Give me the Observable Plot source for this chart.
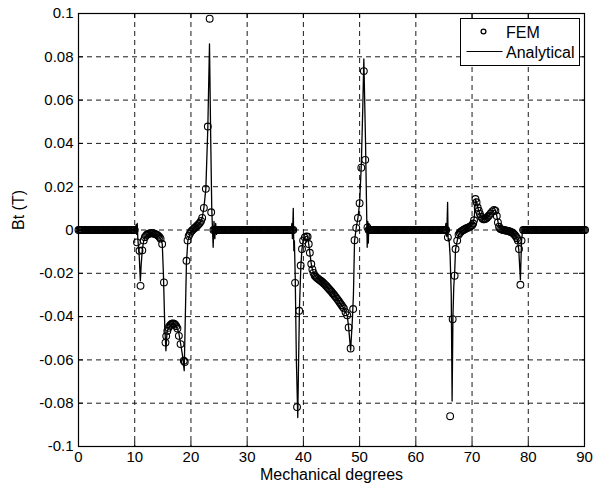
<!DOCTYPE html>
<html><head><meta charset="utf-8">
<script src="https://cdn.jsdelivr.net/npm/d3@7"></script>
<script src="https://cdn.jsdelivr.net/npm/@observablehq/plot@0.6"></script>
<style>
body{margin:0;background:#fff;font-family:"Liberation Sans",Arial,sans-serif;}
#chart svg{display:block;}
</style></head><body><div id="chart"></div>
<script>
// ---- tick definitions ----
const xTicks = [0,10,20,30,40,50,60,70,80,90];
const yTicks = [-0.1,-0.08,-0.06,-0.04,-0.02,0,0.02,0.04,0.06,0.08,0.1];
const yTickLabels = ["-0.1","-0.08","-0.06","-0.04","-0.02","0","0.02","0.04","0.06","0.08","0.1"];

// ---- FEM: flat (zero) stretches, [start deg, end deg], sampled every femStep deg ----
const femFlatSegments = [[0,10.1],[24.0,38.2],[51.6,65.4],[79.1,90]];
const femStep = 0.2;

// ---- FEM: non-zero stretches [deg, Bt] ----
const femRegionA = [[10.4,-0.0057],[10.85,-0.0096],[11.03,-0.0258],[11.35,-0.0094],[11.6,-0.0048],
 [11.8,-0.0033],[12.0,-0.0026],[12.2,-0.0021],[12.4,-0.0018],[12.6,-0.0016],[12.8,-0.0015],[13.0,-0.0015],
 [13.2,-0.0015],[13.4,-0.0016],[13.6,-0.0018],[13.8,-0.002],[14.0,-0.0023],[14.2,-0.0027],[14.4,-0.0032],[14.6,-0.004],
 [14.88,-0.0065],[15.2,-0.0242],[15.47,-0.052],[15.6,-0.049],[15.8,-0.0466],[16.0,-0.0452],[16.2,-0.0443],[16.4,-0.0437],
 [16.6,-0.0433],[16.8,-0.0432],[17.0,-0.0433],[17.2,-0.0437],[17.4,-0.0444],[17.6,-0.0455],[17.85,-0.0489],[18.15,-0.0527],
 [18.74,-0.0604],[18.9,-0.061],[19.21,-0.0142],[19.4,-0.0048],[19.6,-0.0028],[19.8,-0.0017],[20.0,-0.0008],[20.2,-0.0002],
 [20.4,0.0003],[20.6,0.0008],[20.8,0.0012],[21.0,0.0017],[21.2,0.0022],[21.4,0.0028],[21.6,0.0034],[21.8,0.0042],
 [22.0,0.0056],[22.3,0.0102],[22.65,0.019],[23.0,0.0478],[23.33,0.0976],[23.6,0.0082]];
const femRegionB = [[38.52,-0.0244],[38.87,-0.0818],[39.25,-0.0373],[39.52,-0.0164],[39.75,-0.0088],[39.95,-0.0049],
 [40.25,-0.0034],[40.55,-0.003],[40.75,-0.0031],[40.95,-0.0065],[41.15,-0.0105],[41.4,-0.0157],[41.6,-0.0182],
 [41.8,-0.0198],[42.0,-0.0210],[42.2,-0.0216],[42.4,-0.0221],[42.6,-0.0225],[42.8,-0.0229],[43.0,-0.0233],[43.2,-0.0237],
 [43.4,-0.0241],[43.6,-0.0246],[43.8,-0.0251],[44.0,-0.0256],[44.2,-0.0262],[44.4,-0.0268],[44.6,-0.0274],[44.8,-0.0279],
 [45.0,-0.0285],[45.2,-0.0292],[45.4,-0.0298],[45.6,-0.0305],[45.8,-0.0311],[46.0,-0.0318],[46.2,-0.0325],[46.4,-0.0332],
 [46.6,-0.034],[46.8,-0.0347],[47.0,-0.0355],[47.2,-0.0362],[47.5,-0.038],[47.8,-0.0394],[48.05,-0.045],[48.4,-0.0547],
 [48.85,-0.0365],[49.1,-0.0047],[49.4,0.001],[49.7,0.0056],[50.0,0.0124],[50.3,0.0288],[50.75,0.0734],[51.0,0.0324],[51.4,0.0012]];
const femRegionC = [[65.7,-0.0034],[66.1,-0.086],[66.55,-0.0412],[66.9,-0.0211],[67.06,-0.0088],[67.36,-0.0049],
 [67.6,-0.0022],[67.8,-0.0014],[68.0,-0.0008],[68.2,-0.0004],[68.4,-0.0001],[68.6,0.0002],[68.8,0.0005],[69.0,0.0008],
 [69.2,0.001],[69.4,0.0012],[69.6,0.0015],[69.8,0.0018],[70.0,0.0022],[70.2,0.003],[70.35,0.0045],[70.6,0.0143],
 [70.8,0.0128],[71.0,0.0104],[71.2,0.0089],[71.4,0.0074],[71.6,0.0062],[71.8,0.0054],[72.0,0.005],[72.2,0.005],
 [72.4,0.0052],[72.6,0.0056],[72.8,0.0061],[73.0,0.0067],[73.3,0.0076],[73.6,0.0086],[73.9,0.0093],[74.15,0.0089],
 [74.4,0.0065],[74.6,0.0035],[74.8,0.0015],[75.0,0.0006],[75.2,0.0003],[75.4,0.0001],[75.6,0],[75.8,-0.0001],
 [76.0,-0.0002],[76.2,-0.0003],[76.4,-0.0004],[76.6,-0.0006],[76.8,-0.0008],[77.0,-0.001],[77.2,-0.0013],[77.4,-0.0017],
 [77.6,-0.0023],[77.8,-0.003],[78.0,-0.0038],[78.15,-0.0048],[78.35,-0.0088],[78.6,-0.0253],[78.8,-0.0049]];

// ---- Analytical curve [deg, Bt] ----
const anaRegionA = [[0,0],[10.1,0],[10.25,0.0025],[10.35,-0.002],[10.45,0.003],[10.55,-0.004],[10.8,-0.012],[11.0,-0.0235],
 [11.15,-0.016],[11.35,-0.009],[11.6,-0.005],[11.9,-0.0032],[12.3,-0.0021],[12.9,-0.0015],[13.5,-0.0017],[14.1,-0.0025],
 [14.6,-0.004],[14.9,-0.0065],[15.1,-0.02],[15.35,-0.045],[15.55,-0.0558],[15.75,-0.047],[16.0,-0.0452],[16.6,-0.0433],
 [17.2,-0.0437],[17.8,-0.047],[18.2,-0.053],[18.5,-0.058],[18.8,-0.065],[19.0,-0.04],[19.2,-0.015],[19.45,-0.005],
 [19.9,-0.0013],[20.5,0.0005],[21.1,0.002],[21.7,0.0038],[22.0,0.0056],[22.3,0.0102],[22.65,0.019],[23.0,0.047],
 [23.3,0.086],[23.5,0.045],[23.7,0.01],[23.95,-0.008],[24.1,0.004],[24.25,-0.004],[24.4,0.003],[24.55,-0.002],[24.7,0.001],[24.9,0]];
const anaRegionB = [[37.8,0],[37.95,0.003],[38.05,-0.004],[38.2,0.01],[38.3,-0.0096],[38.4,-0.005],[38.55,-0.022],
 [38.75,-0.06],[39.0,-0.0866],[39.15,-0.06],[39.3,-0.036],[39.55,-0.0165],[39.75,-0.0088],[39.95,-0.005],[40.25,-0.0034],
 [40.55,-0.0028],[40.75,-0.0031],[40.95,-0.0065],[41.15,-0.0105],[41.4,-0.0157],[41.6,-0.0182],[42.0,-0.0212],[43.0,-0.0232],
 [44.0,-0.0256],[45.0,-0.0285],[46.0,-0.0318],[46.6,-0.034],[47.2,-0.0362],[47.5,-0.038],[47.8,-0.0394],[48.05,-0.045],
 [48.4,-0.0555],[48.7,-0.042],[48.9,-0.03],[49.1,-0.005],[49.4,0.001],[49.7,0.0056],[50.0,0.0124],[50.3,0.03],[50.55,0.055],
 [50.75,0.079],[51.05,0.041],[51.35,-0.008],[51.45,0.004],[51.55,-0.006],[51.65,0.003],[51.8,-0.001],[51.95,0]];
const anaRegionC = [[65.2,0],[65.35,0.003],[65.5,-0.003],[65.65,0.0128],[65.75,-0.005],[65.9,-0.004],[66.1,-0.012],
 [66.3,-0.03],[66.45,-0.079],[66.6,-0.04],[66.75,-0.026],[66.9,-0.02],[67.06,-0.009],[67.36,-0.005],[67.6,-0.0022],
 [68.0,-0.0008],[68.6,0.0002],[69.2,0.001],[69.8,0.0018],[70.2,0.003],[70.4,0.006],[70.6,0.0143],[70.8,0.0128],
 [71.0,0.0104],[71.4,0.0074],[71.8,0.0054],[72.2,0.005],[72.8,0.0061],[73.3,0.0076],[73.9,0.0093],[74.15,0.0089],
 [74.4,0.0065],[74.8,0.0015],[75.2,0.0003],[76.0,-0.0002],[76.8,-0.0008],[77.4,-0.0017],[78.0,-0.0038],[78.3,-0.0088],
 [78.6,-0.023],[78.8,-0.005],[79.0,0],[90,0]];

// ---- build tables ----
const femFlat = femFlatSegments.flatMap(([a, b]) =>
  d3.range(0, Math.round((b - a) / femStep) + 1).map(i => [+(a + i * femStep).toFixed(2), 0]));
const fem = [...femFlat, ...femRegionA, ...femRegionB, ...femRegionC].map(([x, y]) => ({x, y}));
const analytical = [...anaRegionA, ...anaRegionB, ...anaRegionC].map(([x, y]) => ({x, y}));

const W = 604, H = 488, mL = 78, mR = 20, mT = 13, mB = 42;
const innerW = W - mL - mR, innerH = H - mT - mB, tickLen = 5;

const plot = Plot.plot({
  width: W, height: H,
  marginLeft: mL, marginRight: mR, marginTop: mT, marginBottom: mB,
  style: {fontFamily: "'Liberation Sans', Arial, sans-serif", fontSize: "15px", background: "white", color: "black", overflow: "visible"},
  x: {domain: [0, 90], ticks: xTicks},
  y: {domain: [-0.1, 0.1], ticks: yTicks},
  marks: [
    Plot.ruleX(xTicks, {x: d => d, stroke: "black", strokeWidth: 1, strokeDasharray: "5,4", strokeOpacity: 0.9}),
    Plot.ruleY(yTicks, {y: d => d, stroke: "black", strokeWidth: 1, strokeDasharray: "5,4", strokeOpacity: 0.9}),
    Plot.line(analytical, {x: "x", y: "y", stroke: "black", strokeWidth: 1.3}),
    Plot.dot(fem, {x: "x", y: "y", r: 3.4, stroke: "black", fill: "none", strokeWidth: 1.1}),
    Plot.tickX(xTicks, {x: d => d, insetTop: innerH - tickLen, stroke: "black"}),
    Plot.tickX(xTicks, {x: d => d, insetBottom: innerH - tickLen, stroke: "black"}),
    Plot.tickY(yTicks, {y: d => d, insetRight: innerW - tickLen, stroke: "black"}),
    Plot.tickY(yTicks, {y: d => d, insetLeft: innerW - tickLen, stroke: "black"}),
    Plot.frame({stroke: "black", strokeWidth: 1.2}),
    Plot.axisX({ticks: xTicks, tickSize: 0, tickPadding: 5, label: null, tickFormat: d => String(d)}),
    Plot.axisY({ticks: yTicks, tickSize: 0, tickPadding: 5, label: null, tickFormat: d => yTickLabels[yTicks.indexOf(d)]}),
    Plot.text(["Mechanical degrees"], {frameAnchor: "bottom", dy: 33, fontSize: 16}),
    Plot.text(["Bt (T)"], {frameAnchor: "left", dx: -60, rotate: -90, fontSize: 16})
  ]
});
document.getElementById("chart").appendChild(plot);

// ---- legend (MATLAB style box) ----
const svg = d3.select(plot);
const lg = svg.append("g").attr("font-family", "'Liberation Sans', Arial, sans-serif")
  .attr("font-size", 16).attr("text-anchor", "start");
lg.append("rect").attr("x", 460.5).attr("y", 18.5).attr("width", 119).attr("height", 47)
  .attr("fill", "white").attr("stroke", "black").attr("stroke-width", 1);
lg.append("circle").attr("cx", 483.5).attr("cy", 31.5).attr("r", 2.4)
  .attr("fill", "none").attr("stroke", "black").attr("stroke-width", 1.3);
lg.append("text").attr("x", 506).attr("y", 37.5).attr("text-anchor", "start").text("FEM");
lg.append("line").attr("x1", 466.5).attr("x2", 502.5).attr("y1", 51.5).attr("y2", 51.5)
  .attr("stroke", "black").attr("stroke-width", 1.2);
lg.append("text").attr("x", 506).attr("y", 57.5).attr("text-anchor", "start").text("Analytical");
</script>
</body></html>
